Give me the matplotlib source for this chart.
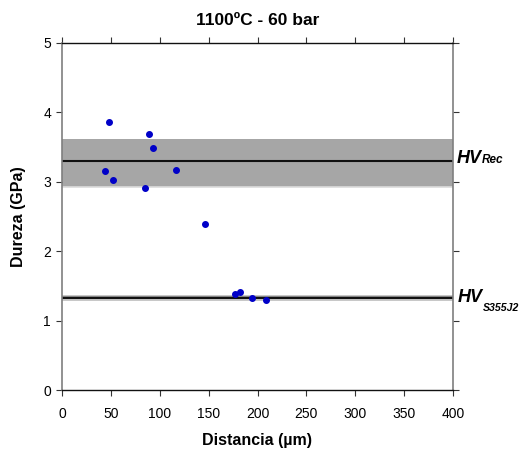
import matplotlib
matplotlib.use("Agg")
import matplotlib.pyplot as plt
import numpy as np

plt.rcParams['font.family'] = ['Liberation Sans', 'DejaVu Sans']

# Hardness profile measurements
distance_um = [43.7, 48.1, 52.5, 84.6, 89.0, 93.4, 116.6, 146.0, 177.3, 182.0, 194.4, 208.4]
hardness_gpa = [3.16, 3.86, 3.03, 2.91, 3.69, 3.48, 3.17, 2.39, 1.39, 1.41, 1.33, 1.30]

# Reference hardness levels (mean, lower, upper)
hv_rec = [3.30, 2.93, 3.62]
hv_s355 = [1.33, 1.28, 1.37]

x_ticks = [0, 50, 100, 150, 200, 250, 300, 350, 400]
y_ticks = [0, 1, 2, 3, 4, 5]

fig = plt.figure(figsize=(5.22, 4.55), dpi=100)
ax = fig.add_axes([62 / 522, 1 - 390 / 455, (453 - 62) / 522, (390 - 43) / 455])

ax.set_xlim(0, 400)
ax.set_ylim(0, 5)

# Scatter bands around the reference levels
ax.fill_between([0, 400], hv_rec[1], hv_rec[2], color='#a6a6a6', lw=0, zorder=1)
ax.plot([0, 400], [hv_rec[1], hv_rec[1]], color='#dcdcdc', lw=1.2, zorder=1.5)
ax.plot([0, 400], [hv_rec[0], hv_rec[0]], color='#111111', lw=1.5, zorder=2)

ax.fill_between([0, 400], hv_s355[1], hv_s355[2], color='#c8c8c8', lw=0, zorder=1)
ax.fill_between([0, 400], hv_s355[0] - 0.025, hv_s355[0] + 0.025, color='#8a8a8a', lw=0, zorder=1.2)
ax.plot([0, 400], [hv_s355[0], hv_s355[0]], color='#111111', lw=1.5, zorder=2)

ax.plot(distance_um, hardness_gpa, 'o', color='#0000c8', ms=4.0, mec='#0000c8', zorder=3)

ax.set_xticks(x_ticks)
ax.set_yticks(y_ticks)
ax.tick_params(axis='both', labelsize=10, direction='out', length=4, width=0.8, color='#333333', pad=4)
ax.tick_params(top=True, right=True, labeltop=False, labelright=False)
ax.tick_params(axis='x', pad=8)

for side in ['left', 'right']:
    ax.spines[side].set_color('#7f7f7f')
    ax.spines[side].set_linewidth(1.2)
for side in ['top', 'bottom']:
    ax.spines[side].set_color('#111111')
    ax.spines[side].set_linewidth(1.0)

ax.set_title('1100ºC - 60 bar', fontsize=12.5, fontweight='bold', pad=13)
ax.set_xlabel('Distancia (µm)', fontsize=11.5, fontweight='bold', labelpad=9)
ax.set_ylabel('Dureza (GPa)', fontsize=11.5, fontweight='bold', labelpad=12)

# Labels of the reference levels on the right-hand side
tr = ax.get_yaxis_transform()
ax.text(1.01, 3.275, 'HV', transform=tr, fontsize=13, fontweight='bold',
        fontstyle='italic', va='baseline', ha='left', clip_on=False)
ax.text(1.073, 3.275, 'Rec', transform=tr, fontsize=8.5, fontweight='bold',
        fontstyle='italic', va='baseline', ha='left', clip_on=False)
ax.text(1.012, 1.27, 'HV', transform=tr, fontsize=13, fontweight='bold',
        fontstyle='italic', va='baseline', ha='left', clip_on=False)
ax.text(1.076, 1.14, 'S355J2', transform=tr, fontsize=7.6, fontweight='bold',
        fontstyle='italic', va='baseline', ha='left', clip_on=False)

fig.savefig('out.png', dpi=100)
